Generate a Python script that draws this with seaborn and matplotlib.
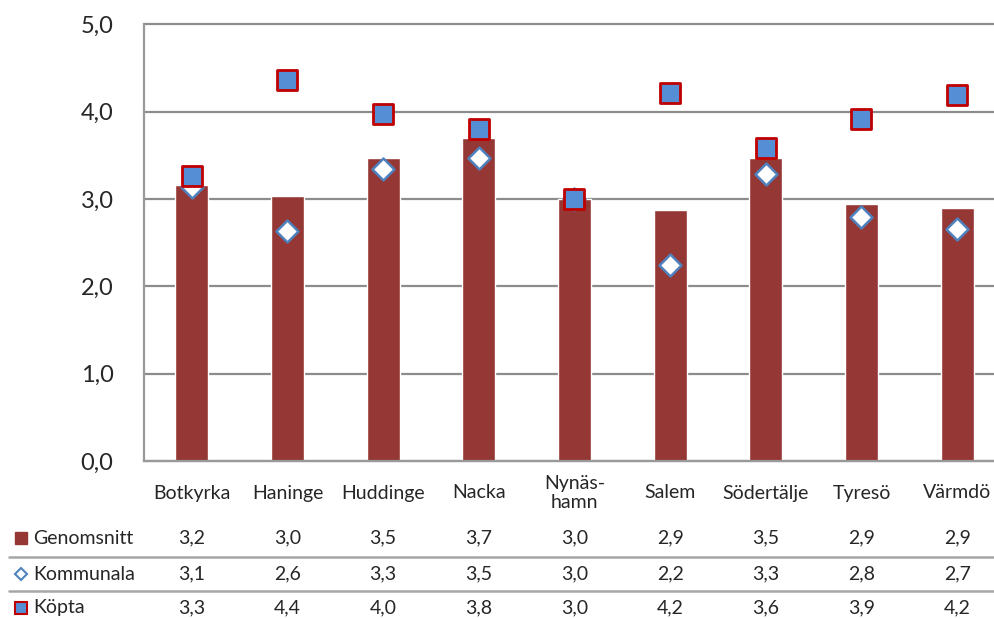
import numpy as np
import pandas as pd
import seaborn as sns
import matplotlib.pyplot as plt
from matplotlib.lines import Line2D
from matplotlib.transforms import blended_transform_factory

# --- data ---
kommuner = ["Botkyrka", "Haninge", "Huddinge", "Nacka", "Nynäs-\nhamn",
            "Salem", "Södertälje", "Tyresö", "Värmdö"]
genomsnitt = [3.16, 3.04, 3.47, 3.70, 3.00, 2.87, 3.47, 2.94, 2.90]
kommunala = [3.14, 2.64, 3.34, 3.47, 3.00, 2.24, 3.29, 2.79, 2.66]
kopta = [3.26, 4.36, 3.98, 3.80, 3.00, 4.21, 3.58, 3.92, 4.19]
y_ticks = [0, 1, 2, 3, 4, 5]

bar_col = "#953735"
sq_fill = "#558ED5"
sq_edge = "#C00000"
dia_edge = "#4F81BD"
grid_col = "#8C8C8C"

df = pd.DataFrame({"kommun": kommuner, "Genomsnitt": genomsnitt,
                   "Kommunala": kommunala, "Köpta": kopta})

sns.set_theme(style="white")
plt.rcParams["font.family"] = ["Lato", "DejaVu Sans"]

fig = plt.figure(figsize=(9.95, 6.19), dpi=100)
ax = fig.add_axes([144 / 995, 158 / 619, 861 / 995, 436.5 / 619])

sns.barplot(data=df, x="kommun", y="Genomsnitt", color=bar_col, width=0.345,
            saturation=1, ax=ax, zorder=2)
sns.scatterplot(data=df, x="kommun", y="Kommunala", marker="D", s=125,
                color="white", edgecolor=dia_edge, linewidth=1.8, ax=ax, zorder=3)
sns.scatterplot(data=df, x="kommun", y="Köpta", marker="s", s=190,
                color=sq_fill, edgecolor=sq_edge, linewidth=2, ax=ax, zorder=4)

ax.set_xlim(-0.5, len(kommuner) - 0.5)
ax.set_ylim(0, 5)
ax.set_yticks(y_ticks)
ax.set_yticklabels([f"{v:.1f}".replace(".", ",") for v in y_ticks], fontsize=17)
ax.tick_params(axis="y", length=0, pad=22)
ax.set_xticks([])
ax.set_xlabel("")
ax.set_ylabel("")
ax.yaxis.grid(True, color=grid_col, linewidth=1.6, zorder=0)
for gl in ax.get_ygridlines():
    gl.set_clip_on(False)
ax.set_axisbelow(True)
for s in ["top", "right"]:
    ax.spines[s].set_visible(False)
for s in ["left", "bottom"]:
    ax.spines[s].set_color("#999999")
    ax.spines[s].set_linewidth(1.6)

# --- data table below the chart ---
fs = 14
tr = blended_transform_factory(ax.transData, fig.transFigure)
for i, k in enumerate(kommuner):
    ax.text(i, 1 - 493 / 619, k, transform=tr, ha="center", va="center",
            fontsize=fs, linespacing=1.1, clip_on=False)

rows = [("Genomsnitt", genomsnitt), ("Kommunala", kommunala), ("Köpta", kopta)]
row_y = [538, 574, 608]
for (name, vals), yp in zip(rows, row_y):
    yf = 1 - yp / 619
    for i, v in enumerate(vals):
        ax.text(i, yf, f"{v:.1f}".replace(".", ","), transform=tr,
                ha="center", va="center", fontsize=fs, clip_on=False)
    fig.text(33 / 995, yf, name, ha="left", va="center", fontsize=fs)

# legend keys
key_kw = dict(transform=fig.transFigure, linestyle="none", clip_on=False)
fig.add_artist(Line2D([21 / 995], [1 - 538 / 619], marker="s", markersize=8,
                      markerfacecolor=bar_col, markeredgecolor=bar_col, **key_kw))
fig.add_artist(Line2D([21 / 995], [1 - 574 / 619], marker="D", markersize=6,
                      markerfacecolor="white", markeredgecolor=dia_edge,
                      markeredgewidth=1.5, **key_kw))
fig.add_artist(Line2D([21 / 995], [1 - 608 / 619], marker="s", markersize=8,
                      markerfacecolor=sq_fill, markeredgecolor=sq_edge,
                      markeredgewidth=1.5, **key_kw))

# separator lines in table
for yp in [557, 591]:
    fig.add_artist(Line2D([9 / 995, 1], [1 - yp / 619] * 2, color="#A6A6A6",
                          linewidth=1.8, transform=fig.transFigure))

fig.savefig("out.png", dpi=100, facecolor="white")
